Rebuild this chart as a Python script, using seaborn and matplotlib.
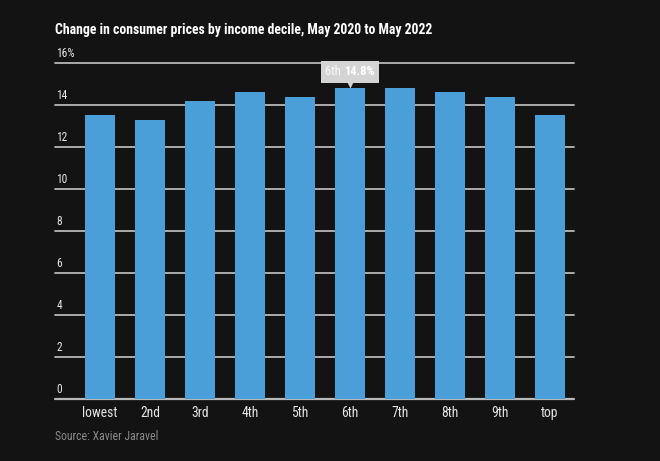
import matplotlib
matplotlib.use('Agg')
import matplotlib.pyplot as plt
import matplotlib.transforms as mtransforms
from matplotlib.offsetbox import TextArea, HPacker, AnnotationBbox
import pandas as pd
import seaborn as sns

# data
deciles = ['lowest', '2nd', '3rd', '4th', '5th', '6th', '7th', '8th', '9th', 'top']
price_change = [13.5, 13.3, 14.2, 14.6, 14.4, 14.8, 14.8, 14.6, 14.4, 13.5]
y_ticks = [0, 2, 4, 6, 8, 10, 12, 14, 16]
y_tick_labels = ['0', '2', '4', '6', '8', '10', '12', '14', '16%']
highlight = '6th'

BG = '#131313'
BAR = '#4b9fd9'
GRID = '#b8b8b8'
TXT = '#e6e6e6'

sns.set_theme(style='dark')
plt.rcParams['font.family'] = ['Roboto Condensed', 'Roboto', 'DejaVu Sans']

df = pd.DataFrame({'decile': deciles, 'change': price_change})

fig = plt.figure(figsize=(6.6, 4.61), dpi=100, facecolor=BG)
ax = fig.add_axes([55 / 660, 1 - 399 / 461, (574 - 55) / 660, (399 - 63) / 461])
ax.set_facecolor(BG)

sns.barplot(data=df, x='decile', y='change', color=BAR, saturation=1,
            width=0.6, ax=ax, zorder=3, edgecolor='none', linewidth=0)

ax.set_xlim(-0.9, 9.48)
ax.set_ylim(0, 16)
ax.set_xlabel('')
ax.set_ylabel('')
for s in ax.spines.values():
    s.set_visible(False)

# gridlines with labels sitting on top of them
for t, lab in zip(y_ticks, y_tick_labels):
    ax.axhline(t, color=GRID, lw=1.3 if t else 1.6, zorder=2, clip_on=False)
    ax.text(0.003, t + 0.12, lab, transform=ax.get_yaxis_transform(),
            color=TXT, fontsize=8.3, ha='left', va='bottom', zorder=4)
ax.set_yticks([])
ax.tick_params(axis='x', colors=TXT, labelsize=9.8, length=0, pad=5)

# tooltip on the highlighted bar
i = deciles.index(highlight)
val = price_change[i]
box = HPacker(children=[
    TextArea(highlight + ' ', textprops=dict(color='#fafafa', fontsize=9)),
    TextArea(f'{val}%', textprops=dict(color='white', fontsize=9, fontweight='bold')),
], align='baseline', pad=0, sep=0)
ab = AnnotationBbox(box, (i, val), xybox=(0, 7), xycoords='data',
                    boxcoords='offset points', box_alignment=(0.5, 0),
                    frameon=True, pad=0.3,
                    bboxprops=dict(facecolor='#d4d4d4', edgecolor='none'),
                    zorder=6)
ax.add_artist(ab)
tri = mtransforms.offset_copy(ax.transData, fig=fig, x=0, y=4.5, units='points')
ax.plot([i], [val], marker='v', markersize=8, color='#d4d4d4', mec='none',
        transform=tri, zorder=6, clip_on=False)

fig.text(55 / 660, 1 - 30 / 461, 'Change in consumer prices by income decile, May 2020 to May 2022',
         color='white', fontsize=9.9, fontweight='bold', ha='left', va='center')
fig.text(55 / 660, 1 - 436 / 461, 'Source: Xavier Jaravel', color='#8c8c8c',
         fontsize=8.5, ha='left', va='center')

fig.savefig('out.png', dpi=100, facecolor=BG)
